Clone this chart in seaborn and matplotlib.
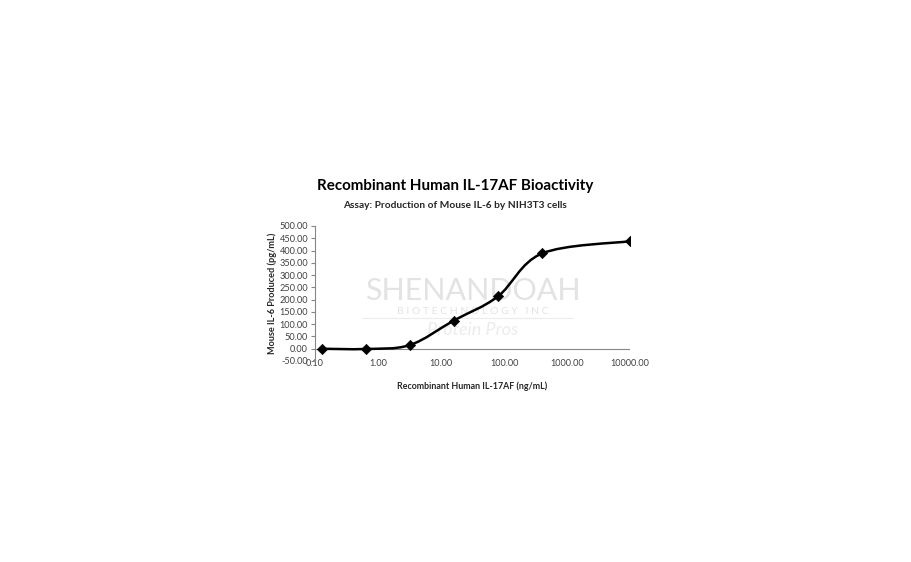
import numpy as np
import pandas as pd
import matplotlib
matplotlib.use("Agg")
import matplotlib.pyplot as plt
import seaborn as sns
from matplotlib.path import Path
from matplotlib.patches import PathPatch

# Data
conc = [0.128, 0.64, 3.2, 16.0, 80.0, 400.0, 10000.0]
il6 = [0.0, -1.0, 15.0, 115.0, 213.0, 388.0, 438.0]
y_ticks = list(range(-50, 501, 50))
x_ticks = [0.1, 1, 10, 100, 1000, 10000]

sns.set_theme(style="white")
plt.rcParams['font.family'] = ['Lato', 'DejaVu Sans']

fig = plt.figure(figsize=(9.12, 5.62), dpi=100)
ax = fig.add_axes([315 / 912, (562 - 361) / 562, 315 / 912, (361 - 226) / 562])

df = pd.DataFrame({"conc": conc, "il6": il6})

# faint watermark
ax.text(0.5, 0.52, "SHENANDOAH", transform=ax.transAxes, ha="center", va="center",
        fontsize=22, color="#e3e3e3", zorder=0)
ax.text(0.5, 0.37, "B I O T E C H N O L O G Y   I N C", transform=ax.transAxes,
        ha="center", va="center", fontsize=7.5, color="#e3e3e3", zorder=0)
ax.plot([0.15, 0.82], [0.32, 0.32], transform=ax.transAxes, color="#ececec", lw=0.8, zorder=0)
ax.text(0.5, 0.23, "Protein Pros", transform=ax.transAxes, ha="center", va="center",
        fontsize=13, style="italic", color="#ececec", zorder=0)

# smoothed line (Excel-style Bezier segments in log-x space)
lx = np.log10(conc)
yy = np.array(il6, dtype=float)
n = len(lx)
verts = [(conc[0], il6[0])]
codes = [Path.MOVETO]
for i in range(n - 1):
    p0 = i - 1 if i > 0 else i
    p3 = i + 2 if i + 2 < n else i + 1
    c1x = lx[i] + (lx[i + 1] - lx[p0]) / 6
    c1y = yy[i] + (yy[i + 1] - yy[p0]) / 6
    c2x = lx[i + 1] - (lx[p3] - lx[i]) / 6
    c2y = yy[i + 1] - (yy[p3] - yy[i]) / 6
    verts += [(10 ** c1x, c1y), (10 ** c2x, c2y), (conc[i + 1], il6[i + 1])]
    codes += [Path.CURVE4] * 3
ax.add_patch(PathPatch(Path(verts, codes), fill=False, lw=1.8, color="black", zorder=3))

sns.scatterplot(data=df, x="conc", y="il6", marker="D", s=28, color="black",
                edgecolor="black", ax=ax, zorder=4)

ax.set_xscale("log")
ax.set_xlim(0.1, 10000)
ax.set_ylim(-50, 500)
ax.set_xticks(x_ticks)
ax.set_xticklabels([f"{v:.2f}" for v in x_ticks])
ax.set_yticks(y_ticks)
ax.set_yticklabels([f"{v:.2f}" for v in y_ticks])
ax.minorticks_off()
ax.axhline(0, color="#868686", lw=0.8, zorder=1)

for s in ["top", "right", "bottom"]:
    ax.spines[s].set_visible(False)
ax.spines["left"].set_color("#868686")
ax.spines["left"].set_linewidth(0.8)
ax.tick_params(axis="y", which="major", left=True, length=3, width=0.8,
               color="#868686", labelsize=6.6, labelcolor="#404040", pad=2)
ax.tick_params(axis="x", which="major", bottom=False, labelsize=6.6,
               labelcolor="#404040", pad=-7.5)

ax.set_xlabel("Recombinant Human IL-17AF (ng/mL)", fontsize=6.4, fontweight="bold",
              color="#262626", labelpad=10)
ax.set_ylabel("Mouse IL-6 Produced (pg/mL)", fontsize=6.6, fontweight="bold",
              color="#262626", labelpad=2)

fig.text(455 / 912, 1 - 186 / 562, "Recombinant Human IL-17AF Bioactivity",
         ha="center", va="center", fontsize=10.9, fontweight="bold", color="black")
fig.text(455 / 912, 1 - 205 / 562, "Assay: Production of Mouse IL-6 by NIH3T3 cells",
         ha="center", va="center", fontsize=7.3, fontweight="bold", color="#262626")

fig.savefig("out.png", dpi=100, facecolor="white")
